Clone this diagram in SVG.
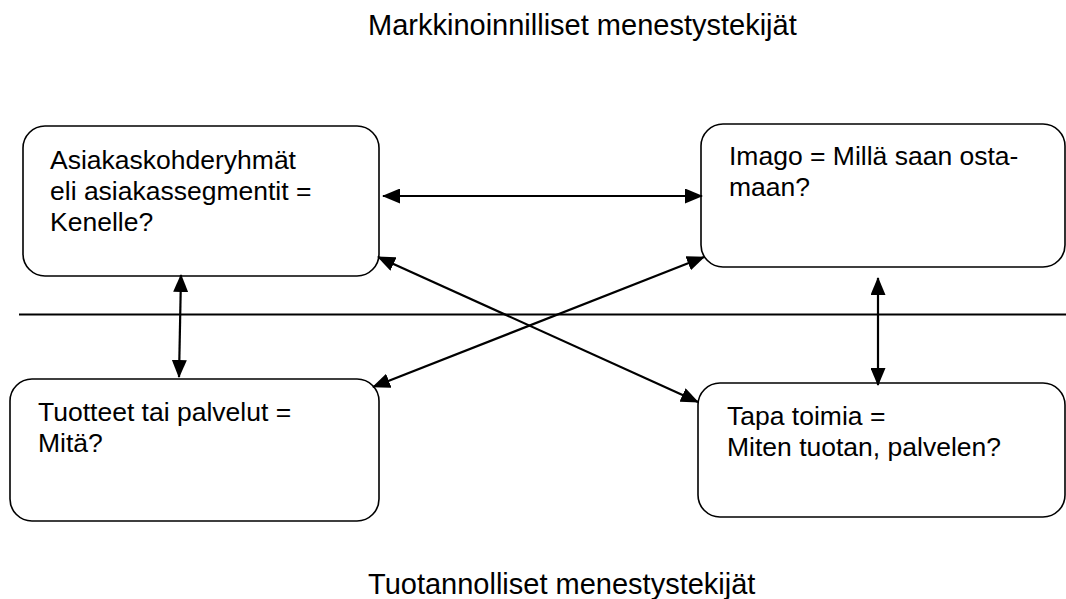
<svg xmlns="http://www.w3.org/2000/svg" width="1066" height="599" viewBox="0 0 1066 599">
  <style>
    .box { fill: #ffffff; stroke: #000000; stroke-width: 1.6; }
    .label { font-family: "Liberation Sans", Arial, sans-serif; font-size: 26.5px; fill: #000000; }
    .title { font-family: "Liberation Sans", Arial, sans-serif; font-size: 29px; fill: #000000; }
    .link { stroke: #000000; stroke-width: 2.2; fill: none; marker-start: url(#head); marker-end: url(#head); }
  </style>
  <defs>
    <marker id="head" viewBox="0 0 18 15" refX="17" refY="7.5" markerWidth="18" markerHeight="15" markerUnits="userSpaceOnUse" orient="auto-start-reverse">
      <path d="M0,0 L18,7.5 L0,15 Z" fill="#000000"/>
    </marker>
  </defs>
  <rect width="1066" height="599" fill="#ffffff"/>

  <text class="title" x="368" y="35">Markkinoinnilliset menestystekijät</text>
  <text class="title" x="368" y="594">Tuotannolliset menestystekijät</text>

  <!-- divider between marketing and production factors -->
  <line x1="19" y1="314.5" x2="1066" y2="314.5" stroke="#000000" stroke-width="2"/>

  <g id="node-asiakas">
    <rect class="box" x="23" y="126" width="356" height="150" rx="22" ry="22"/>
    <text class="label" x="50" y="169">Asiakaskohderyhmät</text>
    <text class="label" x="50" y="200">eli asiakassegmentit =</text>
    <text class="label" x="50" y="231">Kenelle?</text>
  </g>

  <g id="node-imago">
    <rect class="box" x="701" y="124" width="364" height="143" rx="22" ry="22"/>
    <text class="label" x="729" y="165">Imago = Millä saan osta-</text>
    <text class="label" x="729" y="196">maan?</text>
  </g>

  <g id="node-tuotteet">
    <rect class="box" x="10" y="379" width="369" height="142" rx="22" ry="22"/>
    <text class="label" x="38" y="421">Tuotteet tai palvelut =</text>
    <text class="label" x="38" y="452">Mitä?</text>
  </g>

  <g id="node-tapa">
    <rect class="box" x="698" y="383" width="367" height="134" rx="22" ry="22"/>
    <text class="label" x="727" y="425">Tapa toimia =</text>
    <text class="label" x="727" y="456">Miten tuotan, palvelen?</text>
  </g>

  <g id="connectors">
    <line class="link" x1="383" y1="196" x2="702" y2="196"/>
    <line class="link" x1="181" y1="275" x2="179" y2="377"/>
    <line class="link" x1="878" y1="278" x2="878" y2="385"/>
    <line class="link" x1="378" y1="257" x2="698" y2="402"/>
    <line class="link" x1="704" y1="257" x2="373" y2="387"/>
  </g>
</svg>
